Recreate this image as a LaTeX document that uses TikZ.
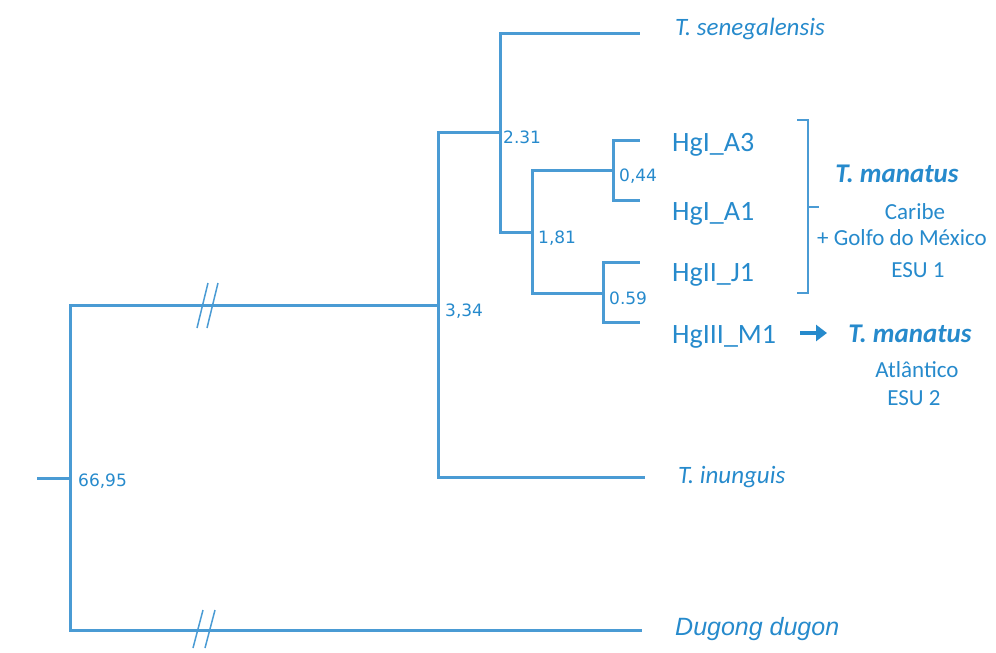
\documentclass[tikz,border=0pt]{standalone}
\usepackage{fontspec}
\setmainfont{Carlito}
\newfontfamily\supportfont{DejaVu Sans}
\newfontfamily\arialfont{Liberation Sans}
\usetikzlibrary{arrows.meta}
\definecolor{treeblue}{RGB}{74,155,212}
\definecolor{labelblue}{RGB}{38,138,204}

\begin{document}
\begin{tikzpicture}[x=1pt, y=-1pt,
  branch/.style={treeblue, line width=3pt},
  cutmark/.style={treeblue, line width=1.5pt},
  support/.style={labelblue, font=\supportfont\fontsize{17}{17}\selectfont, anchor=base west, inner sep=0pt},
  hap/.style={labelblue, font=\fontsize{28}{28}\selectfont, anchor=base west, inner sep=0pt},
  taxon/.style={labelblue, font=\itshape\fontsize{25}{25}\selectfont, anchor=base west, inner sep=0pt},
  group/.style={labelblue, font=\bfseries\itshape\fontsize{27}{27}\selectfont, anchor=base, inner sep=0pt},
  region/.style={labelblue, font=\fontsize{23}{23}\selectfont, anchor=base, inner sep=0pt},
  fatarrow/.style={labelblue, line width=4pt, -{Triangle[length=11pt, width=16pt]}}]
\useasboundingbox (0,0) rectangle (996,653);

  % branch points
  \coordinate (rootin) at (37,478);
  \coordinate (n6695) at (70,478);
  \coordinate (n334) at (438,305);
  \coordinate (n231) at (500,132);
  \coordinate (n181) at (532,232);
  \coordinate (n044) at (613,170);
  \coordinate (n059) at (603,293);

  % leaf ends
  \coordinate (senegal) at (640,33);
  \coordinate (inung) at (645,477);
  \coordinate (dugong) at (642,630);
  \coordinate (tipA3) at (640,140);
  \coordinate (tipA1) at (640,200);
  \coordinate (tipJ1) at (640,262);
  \coordinate (tipM1) at (640,322);

  \draw[branch]
   (rootin) -- (n6695)
   (n6695) |- (n334)
   (n6695) |- (dugong)
   (n334) |- (n231)
   (n334) |- (inung)
   (n231) |- (senegal)
   (n231) |- (n181)
   (n181) |- (n044)
   (n181) |- (n059)
   (n044) |- (tipA3)
   (n044) |- (tipA1)
   (n059) |- (tipJ1)
   (n059) |- (tipM1);

  % breaks on the long branches
  \coordinate (cuttop) at (203,305);
  \coordinate (cutbot) at (199,630);
  \draw[cutmark]
   ([shift={(5,-22)}]cuttop) -- ++(-11,45)
   ([shift={(15,-22)}]cuttop) -- ++(-11,45)
   ([shift={(4,-20)}]cutbot) -- ++(-10,38)
   ([shift={(16,-20)}]cutbot) -- ++(-10,38);

  \node[support] (s6695) at (78,486) {66,95};
  \node[support] (s334) at (445,316) {3,34};
  \node[support] (s231) at (503,143) {2.31};
  \node[support] (s181) at (538,243) {1,81};
  \node[support] (s044) at (619,181) {0,44};
  \node[support] (s059) at (609,304) {0.59};

  \node[taxon] (tsen) at (675,35) {T. senegalensis};
  \node[taxon] (tinu) at (678,483) {T. inunguis};
  \node[labelblue, font=\arialfont\itshape\fontsize{25}{25}\selectfont, anchor=base west, inner sep=0pt] (ddug) at (675,635) {Dugong dugon};

  \node[hap] (hgA3) at (672,151) {HgI\_A3};
  \node[hap] (hgA1) at (672,220) {HgI\_A1};
  \node[hap] (hgJ1) at (672,281) {HgII\_J1};
  \node[hap] (hgM1) at (672,343) {HgIII\_M1};

  % ESU 1 bracket
  \coordinate (brtop) at (797,120);
  \coordinate (brbot) at (797,293);
  \coordinate (brmid) at (808,207);
  \draw[treeblue, line width=2.4pt] (brtop) -| (brmid |- brbot) -- (brbot);
  \draw[treeblue, line width=2.4pt] (brmid) -- ++(11,0);

  \node[group] (tman1) at (897,182) {T. manatus};
  \node[region] (carib) at (915,219) {Caribe};
  \node[region, anchor=base west] (golfo) at (817,245) {+ Golfo do México};
  \node[region] (esu1) at (918,277) {ESU 1};

  \coordinate (arrtail) at (800,333);
  \coordinate (arrtip) at (827,333);
  \draw[fatarrow] (arrtail) -- (arrtip);

  \node[group] (tman2) at (910,342) {T. manatus};
  \node[region] (atlan) at (917,377) {Atlântico};
  \node[region] (esu2) at (914,405) {ESU 2};
\end{tikzpicture}
\end{document}
